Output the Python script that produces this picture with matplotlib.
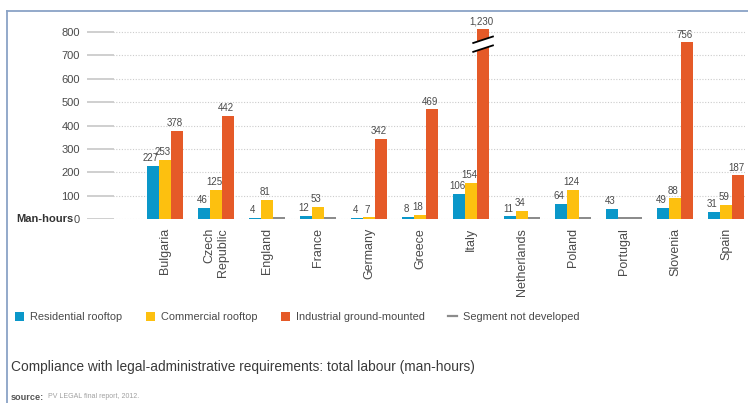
import matplotlib
matplotlib.use("Agg")
import matplotlib.pyplot as plt
import matplotlib.transforms as mtransforms
from matplotlib.patches import Patch, Polygon
from matplotlib.lines import Line2D

# ---- data -------------------------------------------------------------
countries = ["Bulgaria", "Czech\nRepublic", "England", "France", "Germany",
             "Greece", "Italy", "Netherlands", "Poland", "Portugal",
             "Slovenia", "Spain"]
# None marks a segment that is not developed in that country
residential = [227, 46, 4, 12, 4, 8, 106, 11, 64, 43, 49, 31]
commercial = [253, 125, 81, 53, 7, 18, 154, 34, 124, None, 88, 59]
industrial = [378, 442, None, None, 342, 469, 1230, None, None, None, 756, 187]
series_labels = ["Residential rooftop", "Commercial rooftop",
                 "Industrial ground-mounted"]
not_developed_label = "Segment not developed"
y_ticks = [0, 100, 200, 300, 400, 500, 600, 700, 800]

# ---- style ------------------------------------------------------------
colors = ["#0a97c9", "#fdc00f", "#e55a28"]
nd_color = "#8c8c8c"
text_color = "#4a4a4a"
frame_color = "#8aa3c6"
Y_TOP = 813          # visible top of the value axis; taller bars are cut
ND_HEIGHT = 8        # thickness of the "not developed" stub
BAR_STEP = 0.235     # distance between bars within a group
BAR_W = 0.222        # drawn bar width (leaves a hairline gap)

plt.rcParams["font.family"] = ["Liberation Sans", "DejaVu Sans"]

W, H = 748, 403
fig = plt.figure(figsize=(W / 100, H / 100), dpi=100)
ax_left, ax_right, ax_bottom, ax_top = 87, 745, 219, 29
ax = fig.add_axes([ax_left / W, 1 - ax_bottom / H,
                   (ax_right - ax_left) / W, (ax_bottom - ax_top) / H])

n = len(countries)
ax.set_xlim(-1.53, n - 1 + 0.37)
ax.set_ylim(0, Y_TOP)

# grid: a short solid stub at the left, dotted line across the plot
stub = 26 / (ax_right - ax_left)
for v in y_ticks:
    ax.axhline(v, xmin=0, xmax=stub, color="#cfcfcf", lw=1.4, zorder=1)
    ax.axhline(v, xmin=stub, xmax=1, color="#cccccc", lw=0.8,
               ls=(0, (1, 1.5)), zorder=1)

series = [residential, commercial, industrial]
offsets = [-BAR_STEP, 0, BAR_STEP]
for s, (vals, off, col) in enumerate(zip(series, offsets, colors)):
    for i, v in enumerate(vals):
        x = i + off
        if v is None:
            ax.bar(x, ND_HEIGHT, width=BAR_W, color=nd_color,
                   linewidth=0, zorder=3)
            continue
        ax.bar(x, v, width=BAR_W, color=col, linewidth=0, zorder=3)
        ax.annotate(f"{v:,}", (x, min(v, Y_TOP)), xytext=(-1.5, 2),
                    textcoords="offset points", ha="center", va="bottom",
                    fontsize=7, color=text_color, annotation_clip=False)
        if v > Y_TOP:
            # axis break drawn across the cut bar
            yc, dy, gap = 748, 15, 19
            x0, x1 = x - 0.21, x + 0.21
            ax.add_patch(Polygon([(x0, yc - gap - dy), (x1, yc - gap + dy),
                                  (x1, yc + gap + dy), (x0, yc + gap - dy)],
                                 closed=True, facecolor="white",
                                 edgecolor="none", zorder=4))
            for sgn in (-1, 1):
                ax.plot([x0, x1], [yc + sgn * gap - dy, yc + sgn * gap + dy],
                        color="black", lw=1.3, zorder=5,
                        solid_capstyle="butt")

for sp in ax.spines.values():
    sp.set_visible(False)
ax.set_yticks(y_ticks)
ax.set_yticklabels([str(v) for v in y_ticks], fontsize=8, color=text_color)
ax.tick_params(axis="y", length=0, pad=5)
ax.set_xticks(range(n))
ax.set_xticklabels(countries, rotation=90, fontsize=9, color=text_color,
                   va="top", ha="center", multialignment="right")
ax.tick_params(axis="x", length=0, pad=6.5)

# unit label beside the zero tick
blend = mtransforms.blended_transform_factory(fig.transFigure, ax.transData)
ax.text(16 / W, 0, "Man-hours", transform=blend, fontsize=8,
        fontweight="bold", color="#333333", ha="left", va="center")

# legend
handles = [Patch(facecolor=c, edgecolor="none") for c in colors]
handles.append(Line2D([], [], color=nd_color, lw=1.6))
fig.legend(handles, series_labels + [not_developed_label], ncol=4,
           loc="center left", bbox_to_anchor=(0.007, 1 - 317 / H),
           frameon=False, handlelength=0.85, handleheight=0.85,
           handletextpad=0.55, columnspacing=2.1,
           prop={"size": 7.9}, labelcolor=text_color)

# caption and source
fig.text(11 / W, 1 - 367 / H,
         "Compliance with legal-administrative requirements: total labour (man-hours)",
         fontsize=9.9, color="#3a3a3a", ha="left", va="center")
fig.text(11 / W, 1 - 397 / H, "source:", fontsize=6.6, fontweight="bold",
         color="#555555", ha="left", va="center")
fig.text(48 / W, 1 - 397 / H, "PV LEGAL final report, 2012.", fontsize=5.0,
         color="#a0a0a0", ha="left", va="center")

# page frame
fig.add_artist(Line2D([7 / W, 1], [1 - 11 / H] * 2, transform=fig.transFigure,
                      color=frame_color, lw=1.3))
fig.add_artist(Line2D([7 / W] * 2, [1 - 11 / H, 0], transform=fig.transFigure,
                      color=frame_color, lw=1.3))

fig.savefig("out.png", dpi=100)
